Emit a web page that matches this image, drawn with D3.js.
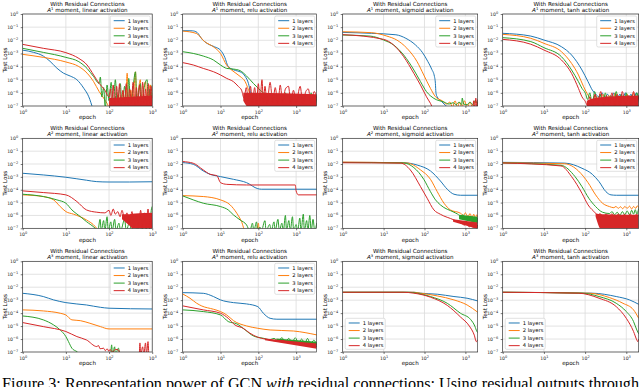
<!DOCTYPE html>
<html>
<head>
<meta charset="utf-8">
<script src="https://cdn.jsdelivr.net/npm/d3@7"></script>
<style>
  body { margin: 0; background: #fff; }
  svg { display: block; font-family: "DejaVu Sans", sans-serif; }
</style>
</head>
<body>
<svg id="fig" width="640" height="387"></svg>
<script>
const layerNames = ["1 layers", "2 layers", "3 layers", "4 layers"];
const layerColors = ["#1f77b4", "#ff7f0e", "#2ca02c", "#d62728"];
const activations = ["linear", "relu", "sigmoid", "tanh"];
const moments = ["1", "2", "3"];
const epochMax = [1000, 3500, 2000, 2000];
const xTicks = [1, 10, 100, 1000];
const yTicks = [1, 1e-1, 1e-2, 1e-3, 1e-4, 1e-5, 1e-6, 1e-7];
const captionParts = ["Figure 3: Representation power of GCN ", "with", " residual connections: Using residual outputs through"];

// series are [epoch, log10(test loss)], order: 1, 2, 3, 4 layers
const A1_linear = [
  [[1,-2.75],[1.8,-2.92],[3,-3.2],[4.3,-3.6],[6.2,-4.12],[8.8,-4.5],[12.6,-4.72],[18,-5.0],[26,-5.65],[34,-6.3],[42,-7.2]],
  [[1,-3.07],[3,-3.3],[10,-3.65],[20,-4.0],[31,-4.5],[44,-5.15],[59,-5.9],[75,-6.4],[90,-6.8],[105,-7.2],[125,-6.5],[140,-7.2],[165,-6.1],[185,-7.2],[210,-5.9],[240,-7.2],[263,-4.5],[285,-7.2],[320,-5.8],[350,-7.2],[410,-4.4],[440,-7.2],[490,-5.6],[530,-5.0],[570,-7.2],[630,-5.7],[700,-5.15],[760,-7.2],[830,-5.9],[910,-5.4],[960,-7.2],[1000,-6.0]],
  [[1,-2.61],[3,-2.92],[10,-3.3],[20,-3.63],[31,-4.14],[44,-4.77],[59,-5.28],[63,-4.8],[68,-6.3],[75,-5.6],[82,-7.2],[90,-5.4],[100,-6.6],[112,-5.2],[125,-7.2],[140,-5.0],[155,-6.8],[183,-5.3],[200,-7.2],[230,-5.5],[260,-6.9],[286,-4.9],[320,-7.2],[360,-5.6],[410,-4.4],[445,-7.2],[490,-5.8],[530,-5.3],[580,-7.2],[650,-5.6],[760,-5.0],[820,-7.2],[880,-5.7],[940,-6.8],[1000,-5.4]],
  [[1,-2.31],[3,-2.61],[10,-2.94],[20,-3.38],[31,-3.88],[44,-4.64],[59,-5.28],[80,-5.79],[100,-6.3],[108,-5.7],[116,-6.8],[125,-5.4],[135,-6.9],[150,-5.5],[162,-6.7],[175,-5.3],[190,-6.9],[210,-5.8],[230,-6.8],[250,-5.3],[275,-6.9],[300,-5.7],[330,-6.8],[360,-5.2],[400,-6.9],[430,-5.6],[470,-6.8],[510,-5.4],[560,-6.9],[600,-5.2],[650,-6.8],[700,-5.7],[760,-6.9],[820,-5.3],[880,-6.8],[940,-5.5],[1000,-6.4]]
];
const A1_relu = [
  [[1,-1.27],[1.8,-1.28],[2.4,-1.4],[3.2,-1.9],[4.5,-2.25],[7,-2.5],[10,-2.75],[13,-3.3],[16,-4.0],[25,-4.3],[33,-4.4],[45,-4.75],[55,-5.3],[62,-6.0],[72,-7.2]],
  [[1,-1.3],[2.3,-1.48],[3.8,-2.1],[6.5,-2.5],[10,-3.0],[14.6,-3.9],[20,-4.28],[33,-4.75],[45,-5.15],[60,-6.1],[82,-7.2]],
  [[1,-2.87],[1.9,-3.0],[3.5,-3.2],[6.5,-3.5],[10,-3.88],[14.6,-4.14],[22,-4.19],[33,-4.31],[49,-4.72],[74,-5.28],[100,-5.66],[136,-6.0],[205,-6.3],[240,-6.9],[280,-6.2],[330,-7.2],[390,-6.5],[450,-7.2],[520,-6.0],[600,-7.2],[700,-6.4],[820,-7.2],[950,-6.1],[1100,-7.2],[1300,-6.5],[1500,-7.2],[1800,-6.2],[2100,-7.2],[2500,-6.0],[2900,-7.2],[3500,-6.4]],
  [[1,-3.7],[1.9,-3.88],[3.5,-4.14],[6.5,-4.39],[10,-4.64],[14.6,-4.9],[22,-5.15],[30,-5.53],[36,-5.79],[42,-6.4],[48,-5.6],[55,-6.6],[62,-5.5],[70,-6.7],[80,-5.6],[90,-6.8],[100,-5.3],[111,-6.6],[125,-5.0],[136,-6.7],[150,-5.5],[170,-6.8],[205,-5.2],[240,-6.7],[280,-5.6],[330,-6.8],[380,-5.4],[440,-6.7],[520,-5.7],[630,-5.5],[720,-6.8],[850,-5.8],[1000,-6.7],[1280,-5.5],[1500,-6.8],[1800,-5.9],[2100,-5.7],[2500,-6.8],[3000,-5.9],[3500,-6.4]]
];
const A1_sigmoid = [
  [[1,-1.4],[5,-1.47],[20,-1.58],[35,-1.85],[60,-2.35],[90,-2.95],[120,-3.6],[150,-4.2],[175,-4.75],[185,-5.3],[190,-5.95],[200,-6.25],[260,-6.65],[400,-7.2]],
  [[1,-1.35],[5,-1.42],[12,-1.68],[21,-1.98],[37,-2.6],[66,-3.63],[96,-4.64],[140,-5.66],[186,-6.3],[270,-6.6],[350,-6.85],[420,-6.7],[480,-7.1],[560,-6.6],[640,-7.1],[720,-6.7],[820,-7.1],[950,-6.6],[1100,-7.1],[1300,-6.7],[1500,-7.1],[1750,-6.6],[2000,-7.0]],
  [[1,-1.6],[4.7,-1.68],[10,-1.98],[17.6,-2.36],[31,-3.12],[55,-4.26],[80,-5.15],[112,-5.91],[170,-6.42],[300,-6.7],[400,-6.85],[500,-6.75],[600,-6.9],[700,-6.7],[800,-6.9],[840,-6.4],[900,-6.85],[1100,-6.9],[1300,-6.7],[1500,-6.9],[1700,-6.6],[2000,-6.8]],
  [[1,-1.57],[10,-1.93],[17.6,-2.36],[31,-3.25],[55,-4.52],[80,-5.41],[112,-6.3],[140,-6.8],[165,-7.2],[1500,-7.2],[1600,-6.6],[1700,-7.2],[1800,-6.4],[1900,-7.2],[2000,-6.5]]
];
const A1_tanh = [
  [[1,-1.47],[4.8,-1.68],[10,-1.98],[26.7,-2.49],[47,-3.12],[84,-4.26],[118,-5.15],[150,-5.79],[180,-6.1],[220,-6.3],[260,-6.0],[300,-6.5],[350,-6.1],[420,-6.6],[500,-6.0],[600,-6.5],[700,-6.1],[800,-6.6],[950,-6.0],[1100,-6.5],[1300,-6.1],[1500,-6.6],[1750,-6.0],[2000,-6.4]],
  [[1,-1.55],[4.8,-1.85],[10,-2.23],[26.7,-2.87],[47,-3.76],[69,-4.64],[92,-5.53],[118,-6.17],[150,-6.55],[180,-6.2],[220,-6.9],[270,-6.1],[320,-6.8],[380,-6.2],[450,-6.9],[540,-6.0],[640,-6.8],[760,-6.2],[900,-6.9],[1050,-6.1],[1250,-6.8],[1500,-6.0],[1750,-6.9],[2000,-6.2]],
  [[1,-1.8],[4.8,-2.1],[10,-2.56],[26.7,-3.25],[47,-4.26],[69,-5.15],[84,-5.66],[102,-6.04],[115,-6.5],[130,-6.0],[150,-6.9],[170,-5.9],[200,-6.8],[230,-6.1],[270,-7.0],[310,-6.0],[360,-6.9],[420,-6.2],[490,-7.0],[570,-5.9],[660,-6.9],[760,-6.1],[880,-7.0],[1000,-6.0],[1150,-6.9],[1350,-6.2],[1550,-7.0],[1800,-6.0],[2000,-6.5]],
  [[1,-1.93],[4.8,-2.3],[10,-2.74],[26.7,-3.5],[47,-4.52],[69,-5.66],[84,-6.3],[102,-6.67],[115,-7.0],[130,-6.3],[150,-7.0],[175,-6.1],[200,-6.9],[240,-5.9],[280,-7.0],[330,-6.2],[380,-6.9],[450,-6.0],[520,-7.0],[600,-6.1],[700,-6.9],[800,-5.9],[950,-7.0],[1100,-6.2],[1300,-6.9],[1500,-5.9],[1750,-7.0],[2000,-6.3]]
];
const A2_linear = [
  [[1,-2.72],[3,-2.85],[10,-3.03],[30,-3.26],[52,-3.37],[100,-3.4],[300,-3.4],[1000,-3.38]],
  [[1,-4.4],[3,-4.53],[5.2,-4.79],[7.4,-5.31],[10,-5.7],[15,-5.9],[30,-6.35],[48,-6.87],[57,-7.2]],
  [[1,-4.35],[3,-4.53],[6.2,-4.79],[10,-5.05],[13.8,-5.57],[21.6,-6.09],[30,-6.48],[48,-7.0],[55,-7.2],[62,-6.3],[66,-7.2],[75,-6.4],[80,-7.2],[90,-6.1],[96,-7.2],[110,-6.5],[118,-7.2],[135,-6.3],[145,-7.2],[170,-6.6],[185,-7.2],[230,-6.3],[250,-7.2],[300,-6.5],[330,-7.2],[400,-6.2],[440,-7.2],[520,-6.4],[570,-7.2],[660,-6.0],[720,-7.2],[820,-6.3],[880,-7.2],[950,-5.6],[1000,-5.3]],
  [[1,-4.09],[3,-4.22],[10,-4.4],[18,-4.92],[30,-5.57],[52,-5.75],[80,-5.8],[100,-5.6],[110,-6.0],[125,-5.5],[140,-5.9],[160,-5.7],[180,-6.1],[200,-5.6],[230,-6.3],[260,-5.8],[300,-6.6],[340,-5.7],[380,-6.9],[430,-5.9],[480,-7.0],[540,-5.6],[600,-7.1],[660,-5.8],[730,-7.1],[800,-5.5],[870,-7.1],[940,-5.9],[1000,-7.0]]
];
const A2_relu = [
  [[1,-1.89],[1.9,-2.02],[3.5,-2.54],[5.3,-2.8],[10,-2.98],[22,-3.19],[49,-3.45],[97,-3.92],[120,-3.96],[3500,-3.96]],
  [[1,-4.46],[3.5,-4.53],[10,-4.79],[18,-5.18],[27,-5.83],[36,-6.48],[45,-7.2],[90,-7.2],[100,-6.6],[105,-7.2]],
  [[1,-4.48],[1.9,-4.79],[3.5,-5.05],[10,-5.31],[16,-5.57],[22,-5.96],[33,-6.35],[49,-6.74],[60,-7.2],[70,-6.6],[76,-7.2],[90,-6.5],[95,-7.2],[110,-6.9],[120,-7.2],[150,-6.4],[160,-7.2],[200,-6.7],[220,-7.2],[260,-6.5],[280,-7.2],[330,-6.3],[360,-7.2],[420,-6.6],[460,-7.2],[520,-6.0],[560,-7.2],[640,-6.4],[700,-7.2],[800,-6.1],[860,-7.2],[1000,-6.7],[1100,-7.2],[1250,-6.2],[1350,-7.2],[1550,-5.9],[1650,-7.2],[1900,-6.4],[2050,-7.2],[2300,-6.0],[2500,-7.2],[2800,-6.3],[3100,-7.2],[3500,-6.6]],
  [[1,-1.81],[1.9,-1.94],[3.5,-2.46],[5.3,-2.8],[8,-2.9],[10,-3.45],[14.6,-3.58],[49,-3.63],[950,-3.63],[1000,-4.1],[1150,-4.4],[3500,-4.4]]
];
const A2_sigmoid = [
  [[1,-1.87],[31,-1.9],[66,-2.08],[140,-2.54],[245,-3.32],[360,-3.96],[525,-4.35],[760,-4.43],[2000,-4.43]],
  [[1,-1.85],[37,-1.92],[80,-2.46],[140,-3.19],[205,-4.15],[300,-5.05],[430,-5.57],[760,-5.83],[900,-6.0],[1000,-5.8],[1150,-6.1],[1300,-5.85],[1450,-6.2],[1600,-5.9],[1750,-6.25],[1900,-5.95],[2000,-6.1]],
  [[1,-1.88],[31,-1.92],[55,-2.28],[96,-3.19],[140,-4.15],[186,-4.79],[245,-5.18],[525,-5.75],[650,-5.9],[760,-6.05],[880,-5.95],[1000,-6.25],[1150,-6.05],[1300,-6.35],[1450,-6.1],[1600,-6.45],[1750,-6.15],[1900,-6.5],[2000,-6.2]],
  [[1,-1.9],[26,-1.93],[45,-2.46],[80,-3.76],[116,-4.66],[170,-5.57],[245,-5.91],[525,-6.35],[650,-6.5],[800,-6.6],[950,-6.75],[1100,-6.6],[1250,-6.9],[1400,-6.7],[1550,-6.95],[1700,-6.7],[1850,-7.0],[2000,-6.75]]
];
const A2_tanh = [
  [[1,-1.87],[32,-1.93],[84,-2.33],[150,-2.8],[218,-3.37],[320,-4.15],[425,-4.4],[575,-4.43],[2000,-4.43]],
  [[1,-1.9],[32,-1.98],[69,-2.54],[118,-3.45],[180,-4.4],[265,-5.05],[390,-5.31],[500,-5.4],[560,-5.3],[640,-5.45],[720,-5.32],[820,-5.48],[920,-5.3],[1050,-5.45],[1200,-5.28],[1350,-5.5],[1500,-5.3],[1700,-5.45],[1850,-5.25],[2000,-5.4]],
  [[1,-1.92],[26,-2.1],[57,-2.98],[84,-3.76],[123,-4.66],[180,-5.31],[265,-5.75],[390,-5.85],[450,-5.7],[520,-5.95],[600,-5.75],[700,-6.0],[800,-5.7],[920,-5.95],[1050,-5.65],[1200,-5.95],[1350,-5.6],[1500,-5.9],[1650,-5.55],[1800,-5.9],[2000,-5.45]],
  [[1,-1.92],[26,-2.15],[47,-2.98],[84,-4.28],[118,-5.18],[180,-5.83],[200,-6.0],[230,-5.85],[270,-6.1],[320,-5.9],[380,-6.05],[450,-5.88],[540,-6.1],[640,-5.9],[760,-6.1],[900,-5.92],[1050,-6.1],[1250,-5.9],[1500,-6.1],[1750,-5.92],[2000,-6.05]]
];
const A3_linear = [
  [[1,-2.47],[3,-2.72],[5.2,-2.98],[10,-3.19],[30,-3.37],[63,-3.55],[100,-3.62],[1000,-3.68]],
  [[1,-3.75],[3,-3.83],[7.4,-4.01],[10,-4.14],[13.8,-4.52],[21.6,-4.58],[36,-4.78],[63,-5.04],[100,-5.22],[1000,-5.22]],
  [[1,-4.22],[3,-4.52],[5.2,-4.91],[7.4,-5.3],[10,-5.81],[11.5,-6.2],[13.8,-6.71],[18,-6.97],[22,-7.2],[108,-7.2],[115,-6.45],[120,-7.2],[135,-6.6],[140,-7.2],[165,-6.7],[175,-7.2]],
  [[1,-4.73],[3,-5.04],[10,-5.42],[18,-5.81],[30,-6.07],[52,-6.58],[57,-6.5],[62,-6.75],[75,-6.71],[82,-6.9],[90,-6.75],[100,-6.95],[105,-6.8],[120,-7.0],[140,-6.8],[167,-6.85],[180,-7.2],[500,-7.2],[520,-6.3],[540,-7.2],[600,-6.6],[640,-7.2],[700,-6.3],[740,-7.2],[800,-6.2],[840,-7.2],[1000,-7.2]]
];
const A3_relu = [
  [[1,-2.42],[3.5,-2.47],[6.5,-2.72],[10,-2.98],[22,-3.19],[49,-3.29],[97,-3.5],[136,-4.01],[205,-4.4],[310,-4.47],[3500,-4.47]],
  [[1,-2.52],[1.56,-2.85],[2.35,-3.24],[3.2,-3.45],[6.5,-3.7],[10,-3.88],[14.6,-4.14],[22,-4.58],[49,-4.99],[97,-5.17],[205,-5.3],[850,-5.38],[3500,-5.68]],
  [[1,-3.75],[3.5,-3.88],[10,-4.14],[16,-4.65],[27,-4.83],[45,-5.3],[74,-5.76],[136,-5.94],[200,-6.05],[260,-5.95],[330,-6.15],[420,-5.9],[520,-6.2],[640,-5.95],[780,-6.25],[950,-5.9],[1150,-6.3],[1400,-6.0],[1700,-6.35],[2000,-5.95],[2400,-6.4],[2900,-6.1],[3500,-6.35]],
  [[1,-3.44],[3.5,-3.75],[10,-4.01],[16,-4.4],[24,-4.91],[40,-5.17],[60,-5.55],[97,-5.86],[150,-6.0],[205,-6.07],[300,-6.15],[420,-6.1],[600,-6.25],[850,-6.27],[1200,-6.35],[1700,-6.4],[2400,-6.5],[3500,-6.58]]
];
const A3_sigmoid = [
  [[1,-2.39],[55,-2.39],[80,-2.46],[205,-2.54],[525,-2.72],[1100,-2.85],[2000,-3.06]],
  [[1,-2.39],[55,-2.39],[80,-2.46],[205,-2.67],[525,-2.98],[1100,-3.37],[2000,-3.93]],
  [[1,-2.39],[40,-2.39],[66,-2.46],[140,-2.72],[360,-3.24],[760,-4.01],[1350,-4.5],[1700,-5.0],[1900,-5.4],[2000,-5.5]],
  [[1,-2.39],[30,-2.39],[55,-2.46],[140,-2.77],[360,-3.4],[760,-4.3],[1250,-5.0],[1650,-5.7],[1850,-6.2],[2000,-6.05]]
];
const A3_tanh = [
  [[1,-2.39],[150,-2.46],[570,-2.72],[1200,-2.98],[2000,-3.32]],
  [[1,-2.39],[123,-2.46],[390,-2.8],[830,-3.24],[1500,-3.75],[2000,-4.4]],
  [[1,-2.39],[84,-2.46],[218,-2.72],[570,-3.24],[1000,-3.88],[1500,-4.65],[1800,-5.3],[2000,-5.6]],
  [[1,-2.39],[69,-2.46],[218,-2.85],[570,-3.5],[1000,-4.4],[1500,-5.42],[1800,-6.07],[1900,-6.2],[2000,-6.0]]
];

// dense noise envelopes [epoch, low log10, high log10]
const A1_linear_band = [null, null, null, [[100,-7.2,-6.4],[300,-7.2,-6.3],[1000,-7.2,-6.2]]];
const A1_relu_band = [null, null, null, [[40,-6.6,-6.0],[60,-7.2,-6.0],[3500,-7.2,-6.1]]];
const A1_tanh_band = [null, null, null, [[110,-7.2,-6.6],[200,-7.2,-6.35],[2000,-7.2,-6.2]]];
const A2_linear_band = [null, null, null, [[200,-6.3,-5.9],[300,-6.8,-5.9],[400,-7.2,-5.85],[1000,-7.2,-5.8]]];
const A2_sigmoid_band = [null, null, [[700,-6.3,-5.95],[2000,-6.6,-6.1]], [[500,-6.5,-6.3],[2000,-7.05,-6.55]]];
const A2_tanh_band = [null, null, null, [[180,-6.1,-5.85],[260,-7.2,-5.9],[2000,-7.2,-5.95]]];
const A3_relu_band = [null, null, [[300,-6.2,-5.95],[3500,-6.5,-6.2]], [[150,-6.1,-5.95],[3500,-6.75,-6.35]]];

const panelSeries = [
  [A1_linear, A1_relu, A1_sigmoid, A1_tanh],
  [A2_linear, A2_relu, A2_sigmoid, A2_tanh],
  [A3_linear, A3_relu, A3_sigmoid, A3_tanh]
];
const panelBands = [
  [A1_linear_band, A1_relu_band, null, A1_tanh_band],
  [A2_linear_band, null, A2_sigmoid_band, A2_tanh_band],
  [null, A3_relu_band, null, null]
];
const legendLowerLeft = [[false, false, false, false], [false, false, false, false], [false, false, true, true]];

// layout
const colLeft = [22.7, 182.7, 342.7, 502.7];
const colWidth = [129.5, 134, 135, 136];
const rowTop = [14, 138.3, 261.3];
const rowHeight = [92, 90, 90.7];

const svg = d3.select('#fig');

function powerLabel(text, v) {
  const e = Math.round(Math.log10(v));
  text.text(null);
  text.append('tspan').text('10');
  text.append('tspan').attr('dy', -2).attr('font-size', 3.5)
      .text(e < 0 ? '\u2212' + (-e) : String(e));
}

function drawPanel(r, c) {
  const w = colWidth[c], h = rowHeight[r];
  const xScale = d3.scaleLog().domain([1, epochMax[c]]).range([0, w]);
  const yScale = d3.scaleLog().domain([1e-7, 1]).range([h, 0]);
  const g = svg.append('g').attr('transform', `translate(${colLeft[c]},${rowTop[r]})`);

  // grid
  const xt = xTicks.filter(v => v <= epochMax[c]);
  g.append('g').selectAll('line').data(xt).enter().append('line')
      .attr('x1', d => xScale(d)).attr('x2', d => xScale(d))
      .attr('y1', 0).attr('y2', h)
      .attr('stroke', '#dcdcdc').attr('stroke-width', 0.8);
  g.append('g').selectAll('line').data(yTicks).enter().append('line')
      .attr('y1', d => yScale(d)).attr('y2', d => yScale(d))
      .attr('x1', 0).attr('x2', w)
      .attr('stroke', '#dcdcdc').attr('stroke-width', 0.8);

  // curves
  const clipId = 'clip' + r + c;
  g.append('clipPath').attr('id', clipId).append('rect').attr('width', w).attr('height', h);
  const plot = g.append('g').attr('clip-path', `url(#${clipId})`);
  const line = d3.line()
      .x(d => xScale(d[0]))
      .y(d => yScale(Math.pow(10, d[1])))
      .curve(d3.curveMonotoneX);
  const area = d3.area()
      .x(d => xScale(d[0]))
      .y0(d => yScale(Math.pow(10, d[1])))
      .y1(d => yScale(Math.pow(10, d[2])))
      .curve(d3.curveMonotoneX);
  const bands = panelBands[r][c];
  panelSeries[r][c].forEach((s, i) => {
    if (bands && bands[i]) {
      plot.append('path').attr('d', area(bands[i])).attr('fill', layerColors[i]);
    }
    plot.append('path').datum(s).attr('d', line)
        .attr('fill', 'none').attr('stroke', layerColors[i])
        .attr('stroke-width', 1).attr('stroke-linejoin', 'round');
  });

  // axes
  const xa = g.append('g').attr('transform', `translate(0,${h})`)
      .call(d3.axisBottom(xScale).tickValues(xt).tickSize(2).tickPadding(1.5));
  const ya = g.append('g')
      .call(d3.axisLeft(yScale).tickValues(yTicks).tickSize(2).tickPadding(2.5));
  [xa, ya].forEach(a => {
    a.attr('font-size', 4.6).attr('font-family', null).attr('color', '#222');
    a.select('.domain').remove();
    a.selectAll('.tick line').attr('stroke-width', 0.6);
    a.selectAll('.tick text').each(function(d) { powerLabel(d3.select(this), d); });
  });
  xa.selectAll('.tick text').attr('dy', '0.95em');

  g.append('rect').attr('width', w).attr('height', h)
      .attr('fill', 'none').attr('stroke', '#222').attr('stroke-width', 0.6);

  // labels
  g.append('text').attr('x', w / 2).attr('y', h + 13.3)
      .attr('text-anchor', 'middle').attr('font-size', 5.6).text('epoch');
  g.append('text').attr('transform', `translate(-15.5,${h / 2}) rotate(-90)`)
      .attr('text-anchor', 'middle').attr('font-size', 5.6).text('Test Loss');
  g.append('text').attr('x', w / 2).attr('y', -8.4)
      .attr('text-anchor', 'middle').attr('font-size', 5.6).text('With Residual Connections');
  const t2 = g.append('text').attr('x', w / 2).attr('y', -2.3)
      .attr('text-anchor', 'middle').attr('font-size', 5.6);
  t2.append('tspan').attr('font-style', 'italic').text('A');
  t2.append('tspan').attr('dy', -2).attr('font-size', 3.8).text(moments[r]);
  t2.append('tspan').attr('dy', 2).text(` moment, ${activations[c]} activation`);

  // legend
  const lw = 40, lh = 31;
  const lx = legendLowerLeft[r][c] ? 2.5 : w - lw - 2;
  const ly = legendLowerLeft[r][c] ? h - lh - 2.7 : 2;
  const lg = g.append('g').attr('transform', `translate(${lx},${ly})`);
  lg.append('rect').attr('width', lw).attr('height', lh).attr('rx', 1.5)
      .attr('fill', '#fff').attr('fill-opacity', 0.85)
      .attr('stroke', '#cccccc').attr('stroke-width', 0.6);
  layerNames.forEach((name, i) => {
    const yy = 4.7 + i * 7.55;
    lg.append('line').attr('x1', 3.5).attr('x2', 14.5).attr('y1', yy).attr('y2', yy)
        .attr('stroke', layerColors[i]).attr('stroke-width', 1);
    lg.append('text').attr('x', 17.5).attr('y', yy + 1.8)
        .attr('font-size', 5.2).text(name);
  });
}

moments.forEach((m, r) => activations.forEach((a, c) => drawPanel(r, c)));

// caption (cut by the bottom edge)
const cap = svg.append('text').attr('x', 2).attr('y', 389)
    .attr('font-family', '"Liberation Serif", serif').attr('font-size', 16)
    .attr('textLength', 637).attr('lengthAdjust', 'spacingAndGlyphs');
captionParts.forEach((p, i) => {
  cap.append('tspan').attr('font-style', i === 1 ? 'italic' : null).text(p);
});
</script>
</body>
</html>
